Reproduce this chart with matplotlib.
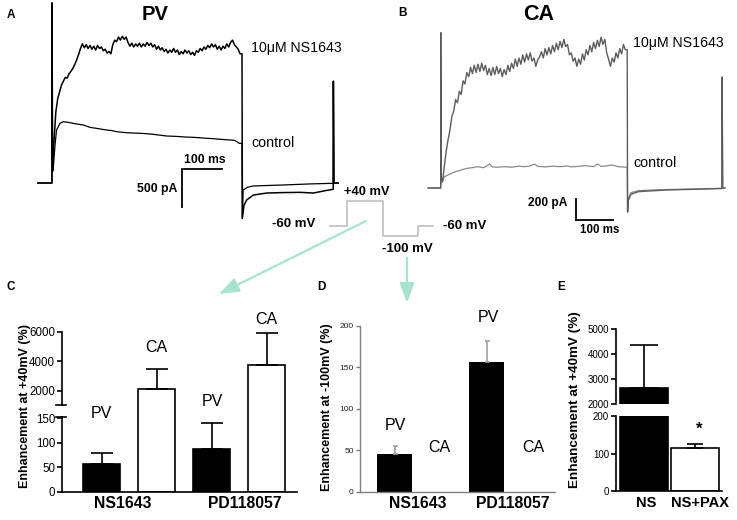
import numpy as np
import matplotlib.pyplot as plt

plt.rcParams['font.family'] = ['Liberation Sans', 'DejaVu Sans']

# ---------------- data ----------------
# panel A (PV): current traces, time in ms, current in pA
a_grid_t = np.arange(5, 500, 5)
a_ns_grid = [520, 930, 1110, 1200, 1290, 1340, 1390, 1380, 1440, 1470,
             1510, 1560, 1620, 1690, 1770, 1830, 1780, 1820, 1770, 1810,
             1760, 1800, 1750, 1810, 1770, 1790, 1740, 1760, 1710, 1730,
             1700, 1820, 1880, 1860, 1920, 1880, 1930, 1890, 1920, 1850,
             1800, 1840, 1790, 1830, 1800, 1840, 1790, 1830, 1800, 1850,
             1810, 1840, 1790, 1820, 1760, 1800, 1750, 1780, 1730, 1760,
             1710, 1750, 1720, 1770, 1720, 1750, 1690, 1730, 1700, 1750,
             1710, 1740, 1690, 1720, 1680, 1740, 1720, 1770, 1740, 1790,
             1760, 1810, 1780, 1830, 1790, 1820, 1760, 1800, 1750, 1800,
             1770, 1830, 1790, 1850, 1880, 1820, 1790, 1760, 1700]
a_ctrl_t = [3, 8, 12, 21, 30, 40, 47, 56, 65, 74, 82, 91, 100, 108, 117,
            130, 144, 157, 170, 183, 196, 214, 232, 250, 267, 285, 302,
            320, 337, 355, 372, 390, 407, 425, 442, 455, 469, 481, 493]
a_ctrl_i = [171, 500, 697, 785, 807, 800, 794, 785, 776, 770, 763, 748,
            732, 726, 719, 708, 697, 690, 675, 668, 662, 657, 654, 648,
            640, 629, 618, 615, 610, 604, 601, 595, 588, 583, 575, 571,
            566, 560, 522]
a_ns_tail_t = [500, 501, 505, 512, 530, 565, 609, 653, 688, 720, 740]
a_ns_tail_i = [1700, -465, -300, -224, -158, -132, -126, -123, -132, -100, -83]
a_ctrl_tail_t = [500, 501, 503, 515, 530, 609, 680, 740]
a_ctrl_tail_i = [522, -465, -92, -55, -39, -26, -12, -4]
a_spike_on, a_spike_off = 2370, 1340

# panel B (CA)
b_grid_t = np.arange(5, 500, 5)
b_ns_grid = [60, 220, 360, 470, 560, 690, 740, 850, 820, 930,
             900, 1030, 1000, 1110, 1070, 1160, 1100, 1180, 1110, 1190,
             1120, 1200, 1130, 1180, 1090, 1150, 1080, 1160, 1090, 1170,
             1100, 1150, 1070, 1140, 1090, 1180, 1120, 1200, 1150, 1240,
             1170, 1250, 1190, 1280, 1210, 1290, 1230, 1300, 1220, 1250,
             1170, 1230, 1260, 1310, 1250, 1340, 1280, 1350, 1290, 1370,
             1310, 1390, 1330, 1410, 1350, 1430, 1360, 1380, 1280, 1300,
             1220, 1250, 1170, 1240, 1190, 1290, 1230, 1330, 1280, 1370,
             1310, 1400, 1340, 1420, 1360, 1450, 1380, 1430, 1300, 1240,
             1170, 1250, 1210, 1300, 1250, 1340, 1290, 1380, 1330]
b_ctrl_t = [2, 10, 25, 40, 55, 70, 85, 100, 115, 125, 131, 137, 150, 170,
            190, 210, 225, 240, 252, 260, 280, 300, 320, 340, 350, 370,
            390, 410, 420, 430, 445, 460, 475, 500]
b_ctrl_i = [45, 109, 135, 157, 173, 189, 196, 205, 195, 215, 231, 205,
            199, 205, 200, 210, 205, 212, 230, 208, 203, 210, 205, 212,
            203, 208, 215, 205, 231, 208, 212, 222, 205, 200]
b_ns_tail_t = [500, 501, 503, 510, 530, 600, 700, 754]
b_ns_tail_i = [1330, -231, -120, -60, -35, -20, -10, -5]
b_ctrl_tail_t = [500, 501, 503, 510, 530, 600, 700, 754]
b_ctrl_tail_i = [200, -231, -100, -45, -25, -15, -8, -3]
b_spike_on, b_spike_off = 1493, 1067

# voltage protocol (mV)
prot_levels = [-60, 40, -100, -60]

# panel C: enhancement at +40 mV (%)
c_groups = ['NS1643', 'PD118057']
c_pv = [57, 88]
c_pv_err = [22, 52]
c_ca = [2100, 3750]
c_ca_err = [1400, 2200]

# panel D: enhancement at -100 mV (%)
d_pv = [46, 156]
d_pv_err = [9, 26]
d_ca = [0, 0]

# panel E
e_labels = ['NS', 'NS+PAX']
e_vals = [2650, 116]
e_err = [1700, 10]

# ---------------- figure ----------------
W, H = 737, 520
fig = plt.figure(figsize=(W / 100, H / 100), dpi=100)


def add_ax(x0, y0, x1, y1):
    return fig.add_axes([x0 / W, 1 - y1 / H, (x1 - x0) / W, (y1 - y0) / H])


# --- A traces ---
axA = add_ax(30, 0, 345, 225)
axA.set_xlim((30 - 52) / 0.38, (345 - 52) / 0.38)
axA.set_ylim((183 - 225) / 0.076, 183 / 0.076)
axA.axis('off')
pre_t = [-37, 0, 0, 1.5]
ns_t = pre_t + list(a_grid_t) + a_ns_tail_t + [740.5, 742, 753]
ns_i = [0, 0, a_spike_on, 300] + a_ns_grid + a_ns_tail_i + [a_spike_off, 0, 0]
ct_t = pre_t + a_ctrl_t + a_ctrl_tail_t + [740.5, 742, 753]
ct_i = [0, 0, a_spike_on, 150] + a_ctrl_i + a_ctrl_tail_i + [a_spike_off, 0, 0]
axA.plot(ct_t, ct_i, color='k', lw=0.9)
axA.plot(ns_t, ns_i, color='k', lw=1.1)
# scale bars 100 ms / 500 pA
axA.plot([347, 447], [184, 184], color='k', lw=1.3)
axA.plot([342, 342], [184, 184 - 500], color='k', lw=1.3)

# --- B traces ---
axB = add_ax(425, 0, 737, 240)
axB.set_xlim((425 - 440.7) / 0.373, (737 - 440.7) / 0.373)
axB.set_ylim((188 - 240) / 0.104, 188 / 0.104)
axB.axis('off')
pre_b = [-34, 0, 0, 1.5]
bn_t = pre_b + list(b_grid_t) + b_ns_tail_t + [754.5, 756, 762]
bn_i = [0, 0, b_spike_on, 100] + b_ns_grid + b_ns_tail_i + [b_spike_off, 0, 0]
bc_t = pre_b + b_ctrl_t + b_ctrl_tail_t + [754.5, 756, 762]
bc_i = [0, 0, b_spike_on, 40] + b_ctrl_i + b_ctrl_tail_i + [b_spike_off, 0, 0]
axB.plot(bc_t, bc_i, color='#8a8a8a', lw=0.9)
axB.plot(bn_t, bn_i, color='#5c5c5c', lw=1.0)
axB.plot([362, 362], [-106, -306], color='k', lw=1.3)
axB.plot([362, 462], [-306, -306], color='k', lw=1.3)

# --- voltage protocol ---
axP = add_ax(320, 190, 440, 245)
axP.set_xlim(-10, 110)
axP.set_ylim(40 - 44 / 0.252, 40 + 11 / 0.252)
axP.axis('off')
seg_w = [17, 36, 35, 15]
edges = np.concatenate([[0], np.cumsum(seg_w)])
axP.step(edges, prot_levels + [prot_levels[-1]], where='post',
         color='#c4c4c4', lw=1.3)

# --- C: broken axis ---
pos = np.arange(4)
c_pos_pv, c_pos_ca = pos[::2], pos[1::2]
bw_c = 0.67
axCl = add_ax(62, 416.7, 297, 491.7)
axCm = add_ax(62, 405.4, 297, 416.7)
axCu = add_ax(62, 332, 297, 405.4)
for ax, lim in ((axCl, (0, 153)), (axCu, (1000, 6000))):
    ax.bar(c_pos_pv, c_pv, bw_c, color='k', edgecolor='k', lw=1.2)
    ax.bar(c_pos_ca, c_ca, bw_c, facecolor='w', edgecolor='k', lw=1.2)
    ax.errorbar(c_pos_pv, c_pv, yerr=[[0, 0], c_pv_err], fmt='none',
                ecolor='k', elinewidth=1.2, capsize=7.8, capthick=1.2)
    ax.errorbar(c_pos_ca, c_ca, yerr=[[0, 0], c_ca_err], fmt='none',
                ecolor='k', elinewidth=1.2, capsize=7.8, capthick=1.2)
    ax.set_ylim(*lim)
    for s in ('top', 'right'):
        ax.spines[s].set_visible(False)
    ax.spines['left'].set_linewidth(1.2)
    ax.spines['bottom'].set_linewidth(1.2)
    ax.tick_params(axis='y', direction='out', length=3.5, width=1.2,
                   labelsize=8.3, pad=1.5)
# white bars pass through the gap of the broken axis
axCm.bar(c_pos_ca, c_ca, bw_c, facecolor='w', edgecolor='k', lw=1.2)
axCm.set_ylim(153, 1000)
axCm.axis('off')
for ax in (axCl, axCm, axCu):
    ax.set_xlim(-0.72, 3.55)
    ax.set_xticks([])
    ax.patch.set_alpha(0)
axCu.spines['bottom'].set_visible(False)
axCl.set_yticks([0, 50, 100, 150])
axCu.set_yticks([2000, 4000, 6000])
axCu.plot([-0.026, 0.016], [0, 0], transform=axCu.transAxes, color='k',
          lw=1.2, clip_on=False)
axCl.plot([-0.026, 0.016], [1, 1], transform=axCl.transAxes, color='k',
          lw=1.2, clip_on=False)

# --- D ---
axD = add_ax(360, 325.7, 555, 491.7)
d_pos_pv, d_pos_ca = pos[::2], pos[1::2]
axD.bar(d_pos_pv, d_pv, 0.76, color='k')
axD.bar(d_pos_ca, d_ca, 0.76, color='w')
axD.errorbar(d_pos_pv, d_pv, yerr=[[0, 0], d_pv_err], fmt='none',
             ecolor='#a0a0a0', elinewidth=1.2, capsize=1.8, capthick=1.2)
axD.set_xlim(-0.76, 3.48)
axD.set_ylim(0, 200)
axD.set_xticks([])
axD.set_yticks([0, 50, 100, 150, 200])
for s in ('top', 'right'):
    axD.spines[s].set_visible(False)
for s in ('left', 'bottom'):
    axD.spines[s].set_color('#808080')
    axD.spines[s].set_linewidth(1.0)
axD.tick_params(axis='y', direction='out', length=3, width=1.0,
                color='#808080', labelsize=6, labelcolor='#222222', pad=1.5)

# --- E: broken axis ---
e_pos = np.arange(2)
axEl = add_ax(616, 416, 721.7, 491)
axEu = add_ax(616, 329, 721.7, 404)
for ax, lim in ((axEl, (0, 200)), (axEu, (2000, 5000))):
    ax.bar(e_pos, e_vals, 0.93, color=['k', 'w'], edgecolor='k', lw=1.2)
    for p, v, e, cs in zip(e_pos, e_vals, e_err, (9.8, 6.0)):
        ax.errorbar([p], [v], yerr=[[0], [e]], fmt='none', ecolor='k',
                    elinewidth=1.2, capsize=cs, capthick=1.2)
    ax.set_xlim(-0.55, 1.52)
    ax.set_ylim(*lim)
    ax.set_xticks([])
    for s in ('top', 'right'):
        ax.spines[s].set_visible(False)
    ax.spines['left'].set_linewidth(1.2)
    ax.spines['bottom'].set_linewidth(1.2)
    ax.tick_params(axis='y', direction='out', length=3.5, width=1.2,
                   labelsize=7, pad=1.5)
    ax.patch.set_alpha(0)
axEu.spines['bottom'].set_visible(False)
axEl.set_yticks([0, 100, 200])
axEu.set_yticks([2000, 3000, 4000, 5000])

# --- overlay for labels and arrows ---
ov = fig.add_axes([0, 0, 1, 1])
ov.set_xlim(0, W)
ov.set_ylim(H, 0)
ov.axis('off')
teal = '#a6e4d0'
arrow_kw = dict(arrowstyle='-|>,head_length=0.6,head_width=0.22',
                color=teal, lw=1.6, mutation_scale=20, shrinkA=0, shrinkB=0)
ov.annotate('', xy=(219, 294), xytext=(366, 221), arrowprops=arrow_kw)
ov.annotate('', xy=(407, 303), xytext=(407, 258), arrowprops=arrow_kw)


def t(x, y, s, size, bold=False, ha='center', **kw):
    ov.text(x, y, s, fontsize=size, fontweight='bold' if bold else 'normal',
            ha=ha, va='center', **kw)


for lbl, x, y in (('A', 11, 15), ('B', 403, 13), ('C', 11, 287),
                  ('D', 321, 287), ('E', 561, 287)):
    t(x, y, lbl, 8.5, True)
t(155, 14, 'PV', 14.5, True)
t(539, 14, 'CA', 15.5, True)
t(251, 48, '10\u03bcM NS1643', 10.2, ha='left')
t(251, 143, 'control', 10.3, ha='left')
t(633, 43, '10\u03bcM NS1643', 10.2, ha='left')
t(633, 163, 'control', 10.3, ha='left')
t(205, 160, '100 ms', 8.8, True)
t(177, 189, '500 pA', 8.8, True, ha='right')
t(567, 203, '200 pA', 8.6, True, ha='right')
t(600, 230, '100 ms', 8.3, True)
t(367, 192, '+40 mV', 9.3, True)
t(315, 224, '-60 mV', 9.5, True, ha='right')
t(407, 249, '-100 mV', 9.5, True)
t(443, 226, '-60 mV', 9.5, True, ha='left')

for s, x, y in (('PV', 101, 413), ('CA', 156, 347), ('PV', 212, 402),
                ('CA', 266, 320)):
    t(x, y, s, 11.5)
t(123, 503, c_groups[0], 11.3, True)
t(245, 503, c_groups[1], 11.3, True)
t(25, 406, 'Enhancement at +40mV (%)', 9, True, rotation=90)

for s, x, y in (('PV', 395, 426), ('CA', 439, 447), ('PV', 488, 318),
                ('CA', 533, 447)):
    t(x, y, s, 11.5)
t(418, 503, c_groups[0], 11.3, True)
t(513, 503, c_groups[1], 11.3, True)
t(327, 407, 'Enhancement at -100mV (%)', 9, True, rotation=90)

t(646, 503, e_labels[0], 10.5, True)
t(700, 503, e_labels[1], 10.5, True)
t(699, 429, '*', 12, True)
t(575, 400, 'Enhancement at +40mV (%)', 9.7, True, rotation=90)

fig.savefig('out.png', dpi=100)
